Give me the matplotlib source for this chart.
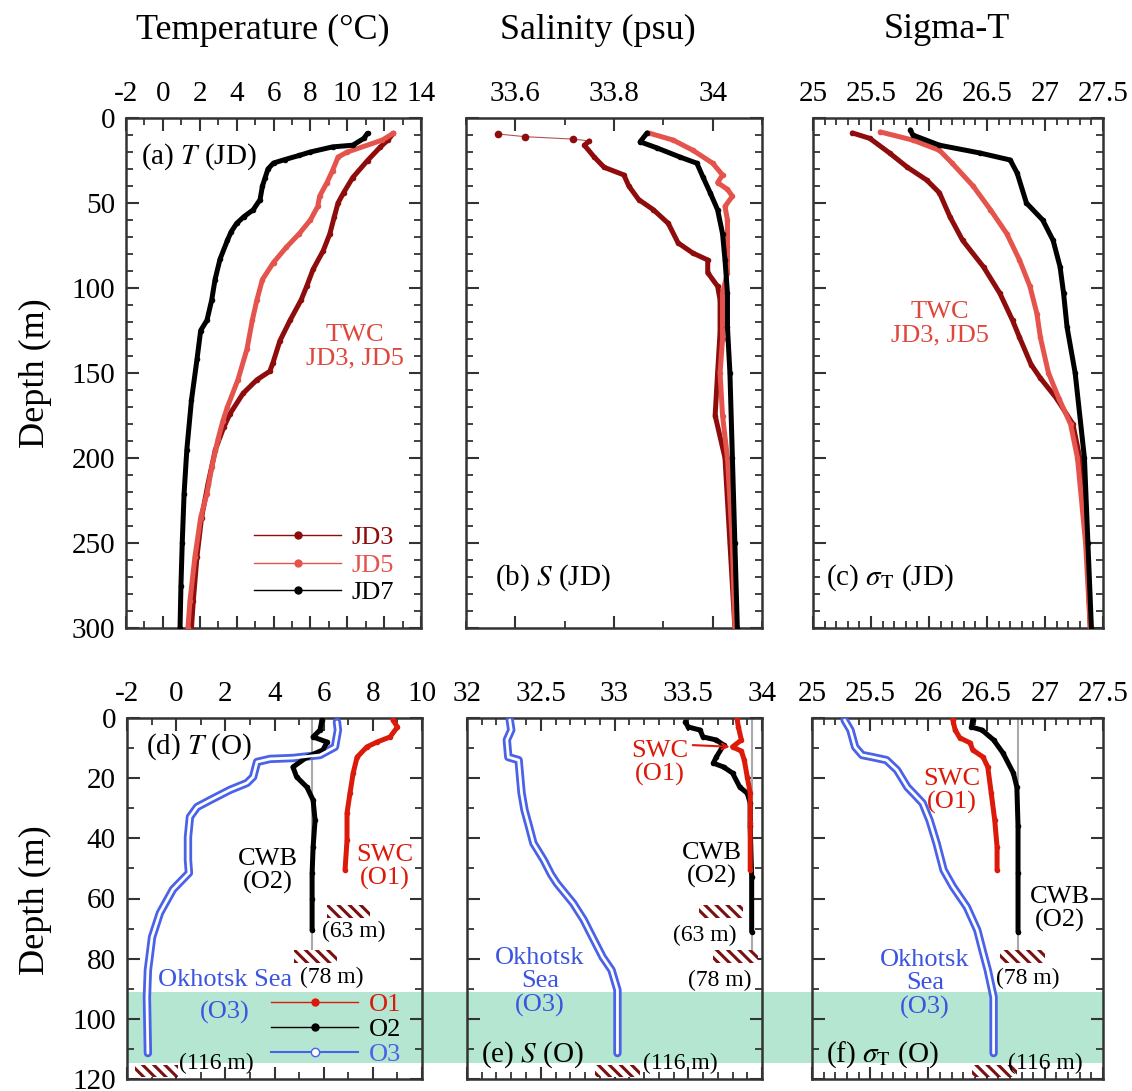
import matplotlib
matplotlib.use("Agg")
import matplotlib.pyplot as plt
from matplotlib.patches import Rectangle
from matplotlib.lines import Line2D
from matplotlib.ticker import MultipleLocator, FuncFormatter

plt.rcParams["font.family"] = ["Liberation Serif", "DejaVu Serif"]
plt.rcParams["mathtext.fontset"] = "stix"
plt.rcParams["axes.unicode_minus"] = False
plt.rcParams["hatch.linewidth"] = 2.2

# ===== data: JD stations (top row) =====
jd3_t_depth = [9, 13, 17, 25, 35, 44, 50, 58, 68, 78, 89, 99, 107, 119, 131, 144, 149, 154, 162, 174, 182, 195, 215, 235, 258, 284, 300]
jd3_t = [12.5, 12.2, 11.8, 11.1, 10.3, 9.8, 9.5, 9.3, 9.06, 8.7, 8.15, 7.8, 7.5, 6.9, 6.35, 5.97, 5.8, 5.1, 4.35, 3.64, 3.3, 2.85, 2.45, 2.1, 1.85, 1.65, 1.55]
jd5_t_depth = [9, 13, 20, 23, 31, 38, 46, 52, 60, 68, 76, 85, 95, 107, 119, 136, 154, 170, 178, 189, 205, 221, 235, 258, 284, 300]
jd5_t = [12.5, 11.9, 10.0, 9.5, 9.2, 8.9, 8.5, 8.4, 8.0, 7.4, 6.7, 6.0, 5.4, 5.1, 4.85, 4.56, 4.07, 3.5, 3.26, 2.99, 2.66, 2.39, 2.05, 1.74, 1.47, 1.36]
jd7_t_depth = [9, 12, 16, 17, 20, 22, 24.5, 26.5, 30, 35, 40, 48, 54, 58, 62, 67, 72, 83, 95, 107, 119, 125, 142, 166, 195, 221, 250, 275, 300]
jd7_t = [11.1, 10.9, 10.3, 9.2, 8.0, 7.4, 6.6, 6.0, 5.7, 5.55, 5.4, 5.27, 4.9, 4.4, 4.0, 3.7, 3.5, 3.1, 2.83, 2.65, 2.39, 2.05, 1.85, 1.55, 1.3, 1.15, 1.05, 0.98, 0.93]

jd3_s_depth = [9.4, 11, 12.4, 13.5, 16, 23, 29, 33.5, 40, 48, 54, 62, 73.5, 79.5, 83.5, 91, 99, 107, 126, 150, 175, 200, 250, 300]
jd3_s = [33.565, 33.62, 33.717, 33.75, 33.74, 33.76, 33.78, 33.82, 33.83, 33.85, 33.88, 33.91, 33.93, 33.96, 33.99, 33.99, 34.01, 34.015, 34.015, 34.01, 34.005, 34.025, 34.035, 34.045]
jd5_s_depth = [8.8, 13, 19, 26.6, 33.5, 38, 42, 46, 52, 60, 76, 91, 103, 130, 150, 175, 200, 250, 300]
jd5_s = [33.87, 33.92, 33.96, 34.0, 34.02, 34.01, 34.03, 34.04, 34.025, 34.03, 34.03, 34.03, 34.02, 34.02, 34.015, 34.02, 34.03, 34.04, 34.045]
jd7_s_depth = [8.8, 14, 17.6, 23, 26.6, 34.5, 44, 54, 68, 83.5, 103, 123, 150, 200, 250, 300]
jd7_s = [33.867, 33.853, 33.887, 33.934, 33.968, 33.98, 33.995, 34.01, 34.02, 34.025, 34.03, 34.03, 34.035, 34.04, 34.045, 34.05]

jd3_sig_depth = [8.8, 12, 20.6, 28.8, 36.5, 44, 58, 72, 87.6, 103, 119, 129, 145, 153, 165, 180, 200, 250, 300]
jd3_sig = [25.34, 25.49, 25.66, 25.81, 25.98, 26.09, 26.18, 26.29, 26.47, 26.61, 26.72, 26.78, 26.88, 26.96, 27.1, 27.24, 27.3, 27.36, 27.39]
jd5_sig_depth = [8.2, 13, 19, 26.6, 40, 54, 68, 83.5, 99, 115, 129, 150, 165, 180, 200, 250, 300]
jd5_sig = [25.58, 25.86, 26.09, 26.2, 26.38, 26.53, 26.67, 26.78, 26.87, 26.93, 26.96, 27.03, 27.12, 27.22, 27.28, 27.35, 27.39]
jd7_sig_depth = [7, 10, 16, 20.6, 24.7, 32.4, 50, 60, 72, 87.6, 103, 123, 150, 200, 250, 300]
jd7_sig = [25.84, 25.86, 26.09, 26.44, 26.70, 26.76, 26.84, 26.98, 27.07, 27.13, 27.16, 27.19, 27.26, 27.34, 27.37, 27.40]

# ===== data: O stations (bottom row) =====
o1_t_depth = [0.7, 3, 6.3, 8, 9.6, 13, 18.3, 25, 31.6, 40.6, 50.5]
o1_t = [8.82, 9.0, 8.7, 8.17, 7.76, 7.36, 7.2, 7.07, 6.95, 6.95, 6.87]
o2_t_depth = [0.7, 4, 6.3, 8, 10.6, 13, 16.3, 19.6, 23, 27.3, 34, 42.9, 51.6, 60, 70.5]
o2_t = [5.93, 5.85, 5.57, 6.14, 5.97, 5.32, 4.75, 4.9, 5.32, 5.57, 5.65, 5.57, 5.53, 5.53, 5.53]
o3_t_depth = [1.3, 4, 9.6, 12.3, 13.3, 13.6, 14.6, 19.6, 21.6, 23.9, 27.3, 29.6, 32.9, 39.6, 47.2, 51.5, 57, 64.8, 72.8, 83.8, 92.8, 111.4]
o3_t = [6.54, 6.58, 6.46, 5.85, 4.75, 3.82, 3.29, 3.13, 2.88, 2.19, 1.38, 0.85, 0.56, 0.48, 0.48, 0.52, -0.13, -0.66, -0.98, -1.15, -1.19, -1.15]

o1_s_depth = [0, 3, 7.3, 9.6, 11, 14, 19.6, 25, 35, 50.5]
o1_s = [33.83, 33.84, 33.86, 33.8, 33.86, 33.88, 33.9, 33.92, 33.92, 33.92]
o2_s_depth = [1.3, 3, 4, 6.3, 7.3, 9, 13, 15, 16.3, 18.3, 23, 25, 28.3, 36, 52.9, 71]
o2_s = [33.48, 33.5, 33.58, 33.6, 33.69, 33.74, 33.69, 33.67, 33.74, 33.8, 33.85, 33.9, 33.92, 33.92, 33.93, 33.93]
o3_s_depth = [0.7, 4, 7.3, 13, 14, 19.6, 25, 30.6, 36, 41.6, 47.2, 52, 55, 61.6, 67, 72.8, 79.5, 83.8, 90.4, 100.4, 111.4]
o3_s = [32.29, 32.30, 32.27, 32.28, 32.35, 32.36, 32.37, 32.39, 32.42, 32.45, 32.52, 32.57, 32.61, 32.72, 32.79, 32.85, 32.92, 32.98, 33.02, 33.02, 33.02]

o1_sig_depth = [0.7, 4, 6.6, 8.3, 10.6, 13, 16.3, 25, 34, 42.9, 50.5]
o1_sig = [26.21, 26.23, 26.27, 26.36, 26.38, 26.47, 26.51, 26.54, 26.57, 26.59, 26.59]
o2_sig_depth = [0.7, 3, 4, 7.3, 11.6, 18.3, 23, 36, 51.5, 71]
o2_sig = [26.38, 26.37, 26.46, 26.56, 26.64, 26.73, 26.76, 26.77, 26.77, 26.77]
o3_sig_depth = [0.7, 4, 9.6, 12.3, 13, 14, 17.3, 23, 25, 28.3, 34, 41.6, 50.5, 56, 62.8, 70.5, 78, 83.8, 92.8, 111.4]
o3_sig = [25.28, 25.33, 25.37, 25.43, 25.52, 25.64, 25.73, 25.82, 25.87, 25.95, 26.01, 26.07, 26.13, 26.21, 26.33, 26.42, 26.47, 26.51, 26.56, 26.56]

bottom_depth = {"O1": 63, "O2": 78, "O3": 116}
band_depth = (91, 114.7)

# ===== styles =====
C_JD3 = "#8e0c0c"
C_JD5 = "#e5544c"
C_JD7 = "black"
C_O1 = "#dc1a0a"
C_O2 = "black"
C_O3 = "#4a62e8"
C_TWC = "#e0473c"
C_BLUE = "#3b55e0"
C_HATCH = "#7a1010"

W, H = 1132, 1091
fig = plt.figure(figsize=(W / 100, H / 100), dpi=100)


def fx(x):
    return x / W


def fy(y):
    return 1 - y / H


def add_ax(l, t, r, b):
    ax = fig.add_axes([fx(l), fy(b), (r - l) / W, (b - t) / H])
    ax.set_facecolor("none")
    for s in ax.spines.values():
        s.set_color("#333333")
        s.set_linewidth(1.8)
    ax.tick_params(which="both", direction="in", top=True, bottom=True, left=True, right=True,
                   labeltop=True, labelbottom=False, colors="#333333", labelcolor="black",
                   labelsize=21, pad=8)
    ax.tick_params(which="major", length=9, width=1.5)
    ax.tick_params(which="minor", length=5, width=1.3)
    ax.xaxis.set_major_formatter(FuncFormatter(lambda v, p: f"{v:g}"))
    return ax


axa = add_ax(126, 118, 421, 628)
axb = add_ax(466, 118, 762, 628)
axc = add_ax(813, 118, 1103, 628)
axd = add_ax(127, 718, 422, 1079)
axe = add_ax(467, 718, 762, 1079)
axf = add_ax(812, 718, 1103, 1079)

xsetup = [(axa, -2, 14, 2, 1), (axb, 33.5, 34.1, 0.2, 0.1), (axc, 25, 27.5, 0.5, 0.1),
          (axd, -2, 10, 2, 1), (axe, 32, 34, 0.5, 0.1), (axf, 25, 27.5, 0.5, 0.1)]
for ax, lo, hi, maj, mnr in xsetup:
    ax.set_xlim(lo, hi)
    ax.xaxis.set_major_locator(MultipleLocator(maj))
    ax.xaxis.set_minor_locator(MultipleLocator(mnr))

for ax in (axa, axb, axc):
    ax.set_ylim(300, 0)
    ax.yaxis.set_major_locator(MultipleLocator(50))
    ax.yaxis.set_minor_locator(MultipleLocator(10))
for ax in (axd, axe, axf):
    ax.set_ylim(120, 0)
    ax.yaxis.set_major_locator(MultipleLocator(20))
    ax.yaxis.set_minor_locator(MultipleLocator(10))
for ax in (axb, axc, axe, axf):
    ax.tick_params(labelleft=False)


def prof(ax, x, d, c, thin=0):
    # first `thin` points are sparse samples: thin line with dots
    if thin:
        ax.plot(x[:thin + 1], d[:thin + 1], color=c, lw=0.8, alpha=0.7, zorder=3)
        ax.plot(x[:thin], d[:thin], "o", color=c, ms=5.5, mew=0, zorder=3)
    ax.plot(x[thin:], d[thin:], color=c, lw=3.6, marker="o", ms=4, mew=0,
            solid_capstyle="round", zorder=3)


def tube(ax, x, d):
    ax.plot(x, d, color=C_O3, lw=6, solid_capstyle="round", zorder=3)
    ax.plot(x, d, color="white", lw=2, solid_capstyle="round", zorder=3.1)


# top row
prof(axa, jd3_t, jd3_t_depth, C_JD3)
prof(axa, jd5_t, jd5_t_depth, C_JD5)
prof(axa, jd7_t, jd7_t_depth, C_JD7)
prof(axb, jd3_s, jd3_s_depth, C_JD3, thin=3)
prof(axb, jd5_s, jd5_s_depth, C_JD5)
prof(axb, jd7_s, jd7_s_depth, C_JD7)
prof(axc, jd3_sig, jd3_sig_depth, C_JD3)
prof(axc, jd5_sig, jd5_sig_depth, C_JD5)
prof(axc, jd7_sig, jd7_sig_depth, C_JD7)

# bottom row
for ax, o1x, o1d, o2x, o2d, o3x, o3d in [
        (axd, o1_t, o1_t_depth, o2_t, o2_t_depth, o3_t, o3_t_depth),
        (axe, o1_s, o1_s_depth, o2_s, o2_s_depth, o3_s, o3_s_depth),
        (axf, o1_sig, o1_sig_depth, o2_sig, o2_sig_depth, o3_sig, o3_sig_depth)]:
    ax.plot([o2x[-1], o2x[-1]], [0, bottom_depth["O2"]], color="#aaaaaa", lw=1.5, zorder=2)
    tube(ax, o3x, o3d)
    prof(ax, o2x, o2d, C_O2)
    prof(ax, o1x, o1d, C_O1)

# seafloor hatch marks (center x, station, width)
hatch_marks = [(axd, 7.0, "O1", 1.75), (axd, 5.65, "O2", 1.75), (axd, -0.8, "O3", 1.75),
               (axe, 33.72, "O1", 0.3), (axe, 33.82, "O2", 0.3), (axe, 33.02, "O3", 0.3),
               (axf, 26.81, "O2", 0.39), (axf, 26.57, "O3", 0.39)]
for ax, xc, st, w in hatch_marks:
    dep = bottom_depth[st]
    ax.add_patch(Rectangle((xc - w / 2, dep - 0.8), w, 4.2, facecolor="white",
                           edgecolor=C_HATCH, hatch="\\\\\\", lw=0, zorder=4, clip_on=False))

# green band across the bottom row
y_top = 718 + band_depth[0] * 361 / 120
y_bot = 718 + band_depth[1] * 361 / 120
fig.add_artist(Rectangle((fx(127), fy(y_bot)), (1103 - 127) / W, (y_bot - y_top) / H,
                         transform=fig.transFigure, facecolor="#b4e6d2", edgecolor="none", zorder=-1))

# legends
jd_h = [Line2D([], [], color=c, lw=1, marker="o", ms=5) for c in (C_JD3, C_JD5, C_JD7)]
axa.legend(jd_h, ["JD3", "JD5", "JD7"], loc="lower right", bbox_to_anchor=(0.99, 0.0),
           frameon=False, fontsize=19, handlelength=3.3, handletextpad=0.4, labelspacing=0.15,
           labelcolor=[C_JD3, C_JD5, C_JD7])
o_h = [Line2D([], [], color=C_O1, lw=1, marker="o", ms=5),
       Line2D([], [], color=C_O2, lw=1, marker="o", ms=5),
       Line2D([], [], color=C_O3, lw=1.5, marker="o", ms=6, mfc="white")]
axd.legend(o_h, ["O1", "O2", "O3"], loc="lower right", bbox_to_anchor=(1.01, -0.03),
           frameon=False, fontsize=19, handlelength=3.3, handletextpad=0.4, labelspacing=0.05,
           labelcolor=[C_O1, C_O2, C_O3])


def txt(x, y, s, c="black", size=19, ha="center", **kw):
    fig.text(fx(x), fy(y), s, color=c, fontsize=size, ha=ha, va="center", linespacing=1.1, **kw)


# column titles and axis labels
txt(263, 30, "Temperature (°C)", size=26)
txt(598, 30, "Salinity (psu)", size=26)
txt(947, 30, "Sigma-T", size=26)
txt(35, 373, "Depth (m)", size=26, rotation=90)
txt(35, 900, "Depth (m)", size=26, rotation=90)

# panel labels
txt(141, 157, "(a) $T$ (JD)", ha="left", size=21)
txt(495, 578, "(b) $S$ (JD)", ha="left", size=21)
txt(826, 578, r"(c) $\sigma_{\rm T}$ (JD)", ha="left", size=21)
txt(146, 747, "(d) $T$ (O)", ha="left", size=21)
txt(481, 1055, "(e) $S$ (O)", ha="left", size=21)
txt(826, 1055, r"(f) $\sigma_{\rm T}$ (O)", ha="left", size=21)

# annotations
txt(355, 347, "TWC\nJD3, JD5", c=C_TWC, size=19)
txt(940, 324, "TWC\nJD3, JD5", c=C_TWC, size=19)

txt(268, 871, "CWB\n(O2)", size=19)
txt(385, 867, "SWC\n(O1)", c=C_O1, size=19)
txt(354, 931, "(63 m)", size=17)
txt(332, 977, "(78 m)", size=17)
txt(225, 980, "Okhotsk Sea", c=C_BLUE, size=19)
txt(225, 1012, "(O3)", c=C_BLUE, size=19)
txt(216, 1063, "(116 m)", size=17)

txt(660, 763, "SWC\n(O1)", c=C_O1, size=19)
axe.annotate("", xy=(33.8, 9.6), xytext=(fx(690), fy(745)), textcoords="figure fraction",
             arrowprops=dict(arrowstyle="->", color=C_O1, lw=1.5), zorder=5)
txt(712, 865, "CWB\n(O2)", size=19)
txt(705, 935, "(63 m)", size=17)
txt(720, 980, "(78 m)", size=17)
txt(540, 982, "Okhotsk\nSea\n(O3)", c=C_BLUE, size=19)
txt(680, 1063, "(116 m)", size=17)

txt(952, 791, "SWC\n(O1)", c=C_O1, size=19)
txt(1060, 909, "CWB\n(O2)", size=19)
txt(1028, 978, "(78 m)", size=17)
txt(925, 984, "Okhotsk\nSea\n(O3)", c=C_BLUE, size=19)
txt(1045, 1063, "(116 m)", size=17)

fig.savefig("out.png", dpi=100)
